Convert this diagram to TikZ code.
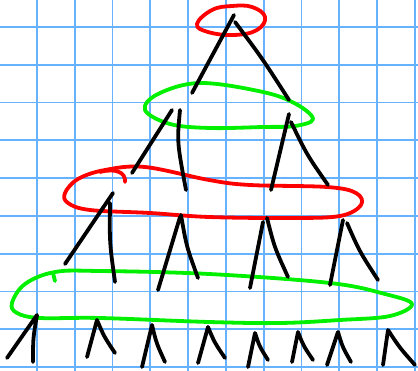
\documentclass[tikz,border=0pt]{standalone}
\usetikzlibrary{calc}
\definecolor{gridblue}{RGB}{102,178,255}
\definecolor{penred}{RGB}{255,0,0}
\definecolor{pengreen}{RGB}{0,240,0}
\begin{document}
\begin{tikzpicture}[x=1pt,y=-1pt,line cap=round,line join=round,
    pen/.style={line width=3.8pt},
    redloop/.style={draw=penred,line width=3.8pt},
    greenloop/.style={draw=pengreen,line width=3.8pt}]
    \useasboundingbox (0,0) rectangle (418,371);
    \fill[white] (0,0) rectangle (418,371);
    % squared paper
    \foreach \i in {0,...,10}{
        \draw[gridblue,line width=1.8pt,line cap=butt] (36.9+37.8*\i,0)--(36.9+37.8*\i,371);
    }
    \foreach \i in {0,...,9}{
        \draw[gridblue,line width=1.8pt,line cap=butt] (0,27+37.8*\i)--(418,27+37.8*\i);
    }
    % loops round each level
    \draw[redloop] plot[smooth cycle,tension=0.7] coordinates {(197,24) (212,10) (232,6) (252,7) (265,17) (257,30) (234,35) (208,32)};
    \draw[greenloop] plot[smooth cycle,tension=0.6] coordinates {(145,110) (158,94) (200,83) (263,92) (296,104) (313,119) (295,126) (263,127) (210,128) (170,124)};
    \draw[redloop] plot[smooth cycle,tension=0.6] coordinates {(65,193) (78,179) (105,170) (145,167) (209,180) (250,185) (327,187) (356,193) (361,205) (340,216) (290,218) (209,217) (150,213) (90,210) (68,203)};
    \draw[redloop] (100,172) .. controls (115,168) and (126,172) .. (125,182);
    \draw[greenloop] plot[smooth cycle,tension=0.6] coordinates {(12,303) (25,284) (55,272) (100,271) (209,274) (330,283) (385,294) (412,304) (390,316) (340,320) (280,323) (209,322) (100,318) (40,318) (17,313)};
    \draw[greenloop] (53,273)--(55,281);
    % root and first level
    \path (234,15) coordinate (r)
        (192,93) coordinate (r-l)
        (235,22) coordinate (r-s)
        (289,100) coordinate (r-r)
        (172,110) coordinate (a1) (132,173) coordinate (a1-l)
        (180,110) coordinate (a2) (186,190) coordinate (a2-r)
        (289,114) coordinate (b1) (271,190) coordinate (b1-l)
        (291,122) coordinate (b2) (328,185) coordinate (b2-r);
    \draw[pen] (r)--(r-l) (r-s) .. controls (262,58) .. (r-r);
    \draw[pen] (a1)--(a1-l) (a2) .. controls (177,142) .. (a2-r);
    \draw[pen] (b1)--(b1-l) (b2) .. controls (307,155) .. (b2-r);
    % second level
    \foreach \n/\tx/\ty/\ux/\uy/\sx/\sy/\vx/\vy in {
        1/113/193/65/264/110/203/115/282,
        2/180/217/158/290/181/215/198/278,
        3/263/222/250/288/267/218/288/277,
        4/343/220/330/285/347/223/378/280}{
        \path (\tx,\ty) coordinate (c\n) (\ux,\uy) coordinate (c\n-l)
            (\sx,\sy) coordinate (d\n) (\vx,\vy) coordinate (d\n-r);
        \draw[pen] (c\n)--(c\n-l) (d\n) .. controls ($(d\n)!0.5!(d\n-r)+(-3,0)$) .. (d\n-r);
    }
    % leaves
    \foreach \n/\tx/\ty/\ux/\uy/\vx/\vy in {
        1/37/315/7/358/33/362,
        2/97/320/87/357/115/353,
        3/152/325/142/367/165/362,
        4/208/327/198/363/225/358,
        5/255/333/248/367/268/360,
        6/298/332/292/362/313/360,
        7/338/332/327/365/351/362,
        8/388/330/383/365/415/365}{
        \path (\tx,\ty) coordinate (t\n) (\ux,\uy) coordinate (t\n-l) (\vx,\vy) coordinate (t\n-r);
        \draw[pen] (t\n-l)--(t\n) .. controls ($(t\n)!0.5!(t\n-r)+(-2,0)$) .. (t\n-r);
    }
\end{tikzpicture}
\end{document}
